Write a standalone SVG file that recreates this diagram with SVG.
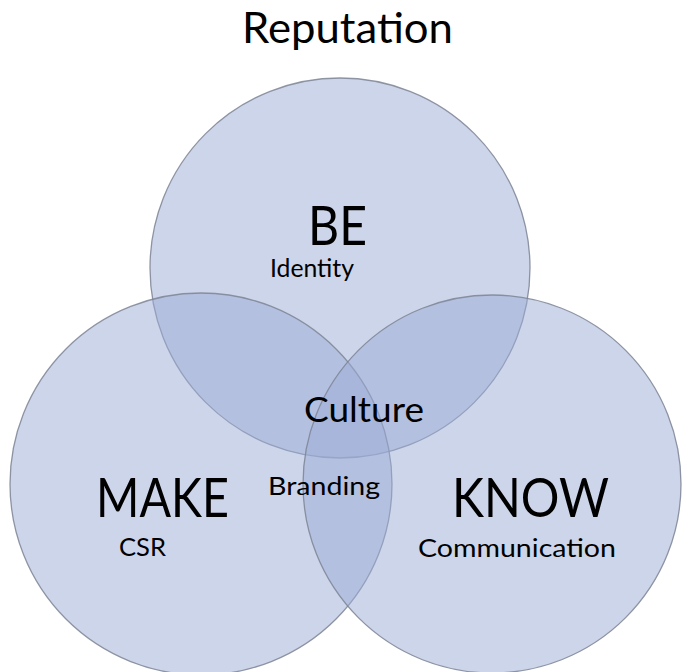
<svg xmlns="http://www.w3.org/2000/svg" width="682" height="672" viewBox="0 0 682 672">
  <style>
    .ring { fill: rgb(155,171,213); fill-opacity: 0.5; stroke: #7d8494; stroke-width: 1.3; stroke-opacity: 0.85; }
    text { font-family: Lato, "Open Sans", "Liberation Sans", sans-serif; fill: #000; }
    .big { font-size: 55px; }
    .mid { font-size: 35px; }
    .small { font-size: 25px; }
  </style>
  <rect width="682" height="672" fill="#fff"/>

  <g id="title">
    <text x="242" y="43" font-size="42" textLength="211" lengthAdjust="spacingAndGlyphs">Reputation</text>
  </g>

  <g id="be">
    <circle class="ring" cx="340" cy="268" r="190"/>
  </g>
  <g id="make">
    <circle class="ring" cx="201" cy="484" r="191"/>
  </g>
  <g id="know">
    <circle class="ring" cx="492" cy="484" r="189"/>
  </g>

  <g id="labels">
    <text class="big" x="308" y="245" font-size="52" textLength="59" lengthAdjust="spacingAndGlyphs">BE</text>
    <text class="small" x="270" y="277" textLength="84" lengthAdjust="spacingAndGlyphs">Identity</text>
    <text class="mid" x="304" y="422" textLength="120" lengthAdjust="spacingAndGlyphs">Culture</text>
    <text class="small" x="268" y="495" textLength="112" lengthAdjust="spacingAndGlyphs">Branding</text>
    <text class="big" x="96" y="517" textLength="133" lengthAdjust="spacingAndGlyphs">MAKE</text>
    <text class="small" x="119" y="556" font-size="26" textLength="47" lengthAdjust="spacingAndGlyphs">CSR</text>
    <text class="big" x="452" y="517" textLength="157" lengthAdjust="spacingAndGlyphs">KNOW</text>
    <text class="small" x="418" y="557" font-size="26" textLength="198" lengthAdjust="spacingAndGlyphs">Communication</text>
  </g>
</svg>
